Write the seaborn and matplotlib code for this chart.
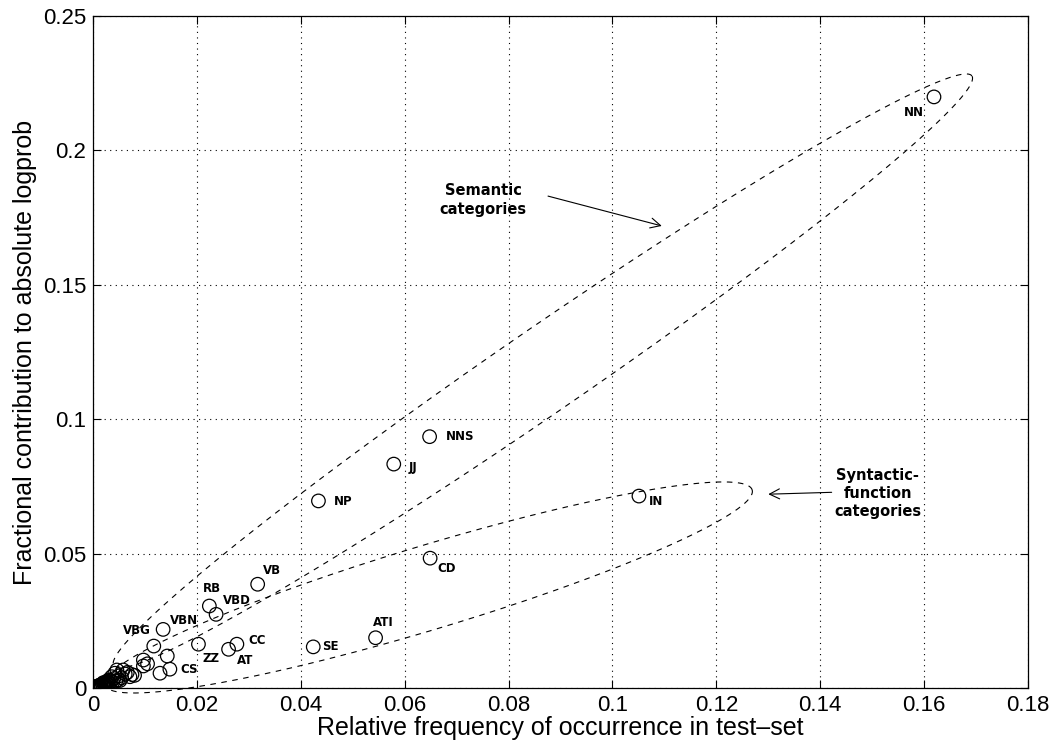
import numpy as np
import pandas as pd
import matplotlib
matplotlib.use("Agg")
import matplotlib.pyplot as plt
import seaborn as sns

# ---- data ----
tags = ['NN', 'NNS', 'JJ', 'NP', 'CD', 'IN', 'VB', 'RB', 'VBD', 'ATI',
        'SE', 'CC', 'AT', 'ZZ', 'CS', 'VBN', 'VBG']
freq = [0.1619, 0.0648, 0.0579, 0.0434, 0.0649, 0.1051, 0.0317, 0.0224, 0.0237,
        0.0544, 0.0424, 0.0277, 0.0261, 0.0203, 0.0148, 0.0135, 0.0117]
contrib = [0.2199, 0.0935, 0.0833, 0.0696, 0.0483, 0.0714, 0.0386, 0.0305, 0.0274,
           0.0187, 0.0153, 0.0163, 0.0144, 0.0163, 0.0070, 0.0218, 0.0156]

other_freq = [0.0002, 0.0004, 0.0006, 0.0008, 0.0010, 0.0012, 0.0015, 0.0018, 0.0020,
              0.0022, 0.0025, 0.0028, 0.0030, 0.0033, 0.0036, 0.0040, 0.0042, 0.0046,
              0.0048, 0.0050, 0.0055, 0.0058, 0.0062, 0.0071, 0.0075, 0.0097, 0.0097,
              0.0105, 0.0143, 0.0129, 0.0001, 0.0003, 0.0014, 0.0024,
              0.0000, 0.0001, 0.0002, 0.0003, 0.0005, 0.0007, 0.0009, 0.0011, 0.0013,
              0.0016, 0.0019, 0.0021, 0.0026, 0.0031, 0.0035, 0.0038, 0.0044, 0.0052,
              0.0066, 0.0080]
other_contrib = [0.0002, 0.0003, 0.0005, 0.0006, 0.0008, 0.0010, 0.0012, 0.0015, 0.0020,
                 0.0017, 0.0022, 0.0025, 0.0030, 0.0028, 0.0042, 0.0035, 0.0055, 0.0067,
                 0.0030, 0.0045, 0.0038, 0.0067, 0.0052, 0.0042, 0.0050, 0.0104, 0.0082,
                 0.0090, 0.0119, 0.0055, 0.0001, 0.0001, 0.0006, 0.0012,
                 0.0000, 0.0000, 0.0001, 0.0002, 0.0003, 0.0004, 0.0005, 0.0006, 0.0008,
                 0.0009, 0.0011, 0.0013, 0.0016, 0.0019, 0.0024, 0.0021, 0.0026, 0.0028,
                 0.0058, 0.0047]

x_ticks = [0, 0.02, 0.04, 0.06, 0.08, 0.1, 0.12, 0.14, 0.16, 0.18]
x_tick_labels = ['0', '0.02', '0.04', '0.06', '0.08', '0.1', '0.12', '0.14', '0.16', '0.18']
y_ticks = [0, 0.05, 0.1, 0.15, 0.2, 0.25]
y_tick_labels = ['0', '0.05', '0.1', '0.15', '0.2', '0.25']

# label offsets (pixels, left edge / vertical centre)
label_offsets = {'NN': (-30, -16), 'NNS': (16, 0), 'JJ': (15, -3), 'NP': (15, -1),
                 'CD': (7, -10), 'IN': (10, -5), 'VB': (5, 14), 'RB': (-6, 18),
                 'VBD': (7, 14), 'ATI': (-3, 15), 'SE': (9, 0), 'CC': (11, 4),
                 'AT': (8, -11), 'ZZ': (4, -14), 'CS': (10, 0), 'VBN': (7, 9),
                 'VBG': (-31, 16)}

df = pd.DataFrame({'freq': freq + other_freq, 'contrib': contrib + other_contrib})

sns.set_theme(style="ticks")
plt.rcParams['font.family'] = ['Liberation Sans', 'DejaVu Sans']
plt.rcParams['text.color'] = 'black'
plt.rcParams['axes.labelcolor'] = 'black'
plt.rcParams['xtick.direction'] = 'in'
plt.rcParams['ytick.direction'] = 'in'

W, H = 1058, 748
fig = plt.figure(figsize=(W / 100, H / 100), dpi=100)
ax = fig.add_axes([93 / W, 60 / H, 935 / W, 672 / H])

sns.scatterplot(data=df, x='freq', y='contrib', ax=ax, marker='o', s=95,
                facecolors='none', edgecolor='black', linewidth=0.9, zorder=3)

ax.set_xlim(0, 0.18)
ax.set_ylim(0, 0.25)
ax.set_xticks(x_ticks)
ax.set_xticklabels(x_tick_labels)
ax.set_yticks(y_ticks)
ax.set_yticklabels(y_tick_labels)
ax.tick_params(axis='both', which='major', labelsize=16, length=6, width=0.8,
               top=True, right=True, color='black', labelcolor='black', pad=5)
for sp in ax.spines.values():
    sp.set_visible(True)
    sp.set_color('black')
    sp.set_linewidth(0.9)
ax.grid(True, linestyle=(0, (1, 4)), color='black', linewidth=0.8)
ax.set_axisbelow(True)
ax.set_xlabel('Relative frequency of occurrence in test\u2013set', fontsize=18,
              labelpad=0, color='black')
ax.set_ylabel('Fractional contribution to absolute logprob', fontsize=18,
              labelpad=4, color='black')

for t, xv, yv in zip(tags, freq, contrib):
    dx, dy = label_offsets[t]
    ax.annotate(t, (xv, yv), xytext=(dx, dy), textcoords='offset pixels',
                ha='left', va='center', fontsize=8.5, fontweight='bold',
                family='DejaVu Sans', color='black', zorder=4)

# ellipses (computed in pixel space so they look right with unequal aspect)
sx = 935 / 0.18
sy = 672 / 0.25


def ellipse(tip1, tip2, b_px, n=400):
    p1 = np.array([tip1[0] * sx, tip1[1] * sy])
    p2 = np.array([tip2[0] * sx, tip2[1] * sy])
    c = (p1 + p2) / 2
    d = p2 - p1
    a = np.linalg.norm(d) / 2
    u = d / np.linalg.norm(d)
    v = np.array([-u[1], u[0]])
    t = np.linspace(0, 2 * np.pi, n)
    pts = c[:, None] + a * np.cos(t) * u[:, None] + b_px * np.sin(t) * v[:, None]
    return pts[0] / sx, pts[1] / sy


ex, ey = ellipse((0.0040, 0.0082), (0.1692, 0.2277), 42)
ax.plot(ex, ey, linestyle=(0, (5, 5)), color='black', linewidth=0.8, clip_on=False)
ex, ey = ellipse((0.0023, 0.0011), (0.1269, 0.0737), 42)
ax.plot(ex, ey, linestyle=(0, (5, 5)), color='black', linewidth=0.8, clip_on=False)

# annotations
ax.text(0.0751, 0.1815, 'Semantic\ncategories', ha='center', va='center',
        fontsize=10.5, fontweight='bold', family='DejaVu Sans', linespacing=1.35,
        color='black')
ax.annotate('', xy=(0.1095, 0.1719), xytext=(0.0876, 0.1830),
            arrowprops=dict(arrowstyle='->', color='black', lw=0.8,
                            mutation_scale=18, shrinkA=0, shrinkB=0))
ax.text(0.1511, 0.0725, 'Syntactic-\nfunction\ncategories', ha='center', va='center',
        fontsize=10.5, fontweight='bold', family='DejaVu Sans', linespacing=1.25,
        color='black')
ax.annotate('', xy=(0.1300, 0.0721), xytext=(0.1422, 0.0728),
            arrowprops=dict(arrowstyle='->', color='black', lw=0.8,
                            mutation_scale=18, shrinkA=0, shrinkB=0))

fig.savefig('out.png', dpi=100)
